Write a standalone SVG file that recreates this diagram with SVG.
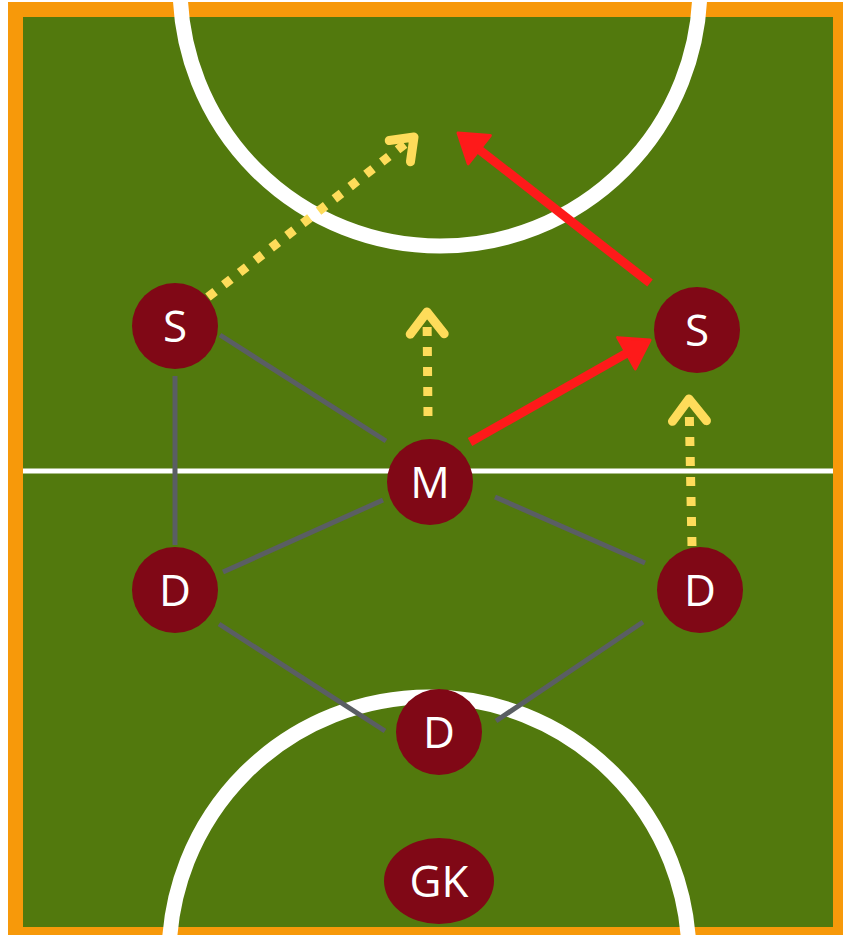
<svg xmlns="http://www.w3.org/2000/svg" width="850" height="935" viewBox="0 0 850 935">
<defs>
<style>
.mark{fill:none;stroke:#ffffff;stroke-width:15}
.link{stroke:#5a5e63;stroke-width:5;fill:none}
.run{stroke:#fedc5a;stroke-width:9;stroke-dasharray:9 11;fill:none}
.pass{stroke:#fe1a1a;stroke-width:9;fill:none}
.node{fill:#800816}
.lbl{font-family:"Open Sans","Noto Sans",sans-serif;font-size:44px;fill:#ffffff;text-anchor:middle}
</style>
<marker id="chev" markerUnits="userSpaceOnUse" markerWidth="60" markerHeight="60" refX="0" refY="0" orient="auto" overflow="visible">
<path d="M-22,-17 L0,0 L-22,17" fill="none" stroke="#fedc5a" stroke-width="9" stroke-linecap="round" stroke-linejoin="round"/>
</marker>
<marker id="chev45" markerUnits="userSpaceOnUse" markerWidth="60" markerHeight="60" refX="0" refY="0" orient="-45" overflow="visible">
<path d="M-20,-15 L0,0 L-20,15" fill="none" stroke="#fedc5a" stroke-width="9" stroke-linecap="round" stroke-linejoin="round"/>
</marker>
<marker id="tri" markerUnits="userSpaceOnUse" markerWidth="60" markerHeight="60" refX="0" refY="0" orient="auto" overflow="visible">
<path d="M10,0 L-17,-18 L-17,18 Z" fill="#fe1a1a" stroke="#fe1a1a" stroke-width="3" stroke-linejoin="round"/>
</marker>
</defs>
<g id="field">
<rect x="8" y="2" width="835" height="933" fill="#f7990a"/>
<rect x="23" y="17" width="810" height="910" fill="#52790d"/>
<line x1="23" y1="471" x2="833" y2="471" stroke="#ffffff" stroke-width="5"/>
<g clip-path="url(#fc)">
<clipPath id="fc"><rect x="23" y="0" width="810" height="935"/></clipPath>
<circle class="mark" cx="440" cy="-14" r="260"/>
<circle class="mark" cx="429" cy="957" r="260"/>
</g>
</g>
<g id="connectors">
<line class="link" x1="220" y1="335" x2="386" y2="441"/>
<line class="link" x1="175" y1="376" x2="175" y2="545"/>
<line class="link" x1="383" y1="500" x2="223" y2="572"/>
<line class="link" x1="495" y1="497" x2="645" y2="563"/>
<line class="link" x1="219" y1="624" x2="385" y2="731"/>
<line class="link" x1="643" y1="622" x2="496" y2="721"/>
<line class="run" x1="208" y1="297" x2="414" y2="137" marker-end="url(#chev45)"/>
<line class="run" x1="428" y1="416" x2="427" y2="312" marker-end="url(#chev)"/>
<line class="run" x1="692" y1="546" x2="689" y2="399" marker-end="url(#chev)"/>
<line class="pass" x1="470" y1="442" x2="641.3" y2="344.9" marker-end="url(#tri)"/>
<line class="pass" x1="650" y1="283" x2="465.9" y2="139.2" marker-end="url(#tri)"/>
</g>
<g id="node-s-left"><circle class="node" cx="175" cy="326" r="43"/><text class="lbl" x="175" y="342">S</text></g>
<g id="node-s-right"><circle class="node" cx="697" cy="330" r="43"/><text class="lbl" x="697" y="346">S</text></g>
<g id="node-m"><circle class="node" cx="430" cy="482" r="43"/><text class="lbl" x="430" y="498">M</text></g>
<g id="node-d-left"><circle class="node" cx="175" cy="590" r="43"/><text class="lbl" x="175" y="606">D</text></g>
<g id="node-d-right"><circle class="node" cx="700" cy="590" r="43"/><text class="lbl" x="700" y="606">D</text></g>
<g id="node-d-bottom"><circle class="node" cx="439" cy="732" r="43"/><text class="lbl" x="439" y="748">D</text></g>
<g id="node-gk"><ellipse class="node" cx="439" cy="881" rx="55" ry="43"/><text class="lbl" x="439" y="897">GK</text></g>
</svg>
